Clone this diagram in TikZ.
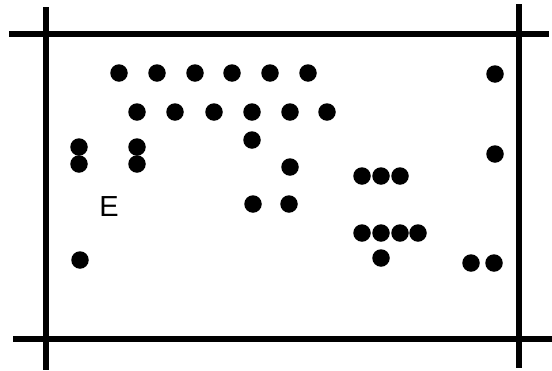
\documentclass[tikz,border=0pt]{standalone}
\usepackage{fontspec}
\setmainfont{Liberation Sans}
\usepackage{tikz}

\begin{document}
\begin{tikzpicture}[
  x=1pt,y=-1pt,
  dot/.style={circle,fill=black,inner sep=0pt,minimum size=17.5pt},
  wall/.style={line width=5.5pt,color=black},
  mark label/.style={font=\fontsize{29}{30}\selectfont,inner sep=0pt}
]
\useasboundingbox (0,0) rectangle (552,370);

% frame
\draw[wall] (9,34) -- (549,34);
\draw[wall] (13,339) -- (552,339);
\draw[wall] (46,7) -- (46,370);
\draw[wall] (519,4) -- (519,368);

% dots
\foreach \px/\py [count=\i] in {119/73,157/73,195/73,232/73,270/73,308/73,495/74,
  137/112,175/112,214/112,252/112,290/112,327/112,252/140,
  79/147,79/164,137/147,137/164,290/167,495/154,
  362/176,381/176,400/176,253/204,289/204,
  362/233,381/233,400/233,418/233,381/258,80/260,471/263,494/263}
  \node[dot] (d\i) at (\px,\py) {};

\node[mark label] (lblE) at (109,207) {E};
\end{tikzpicture}
\end{document}
